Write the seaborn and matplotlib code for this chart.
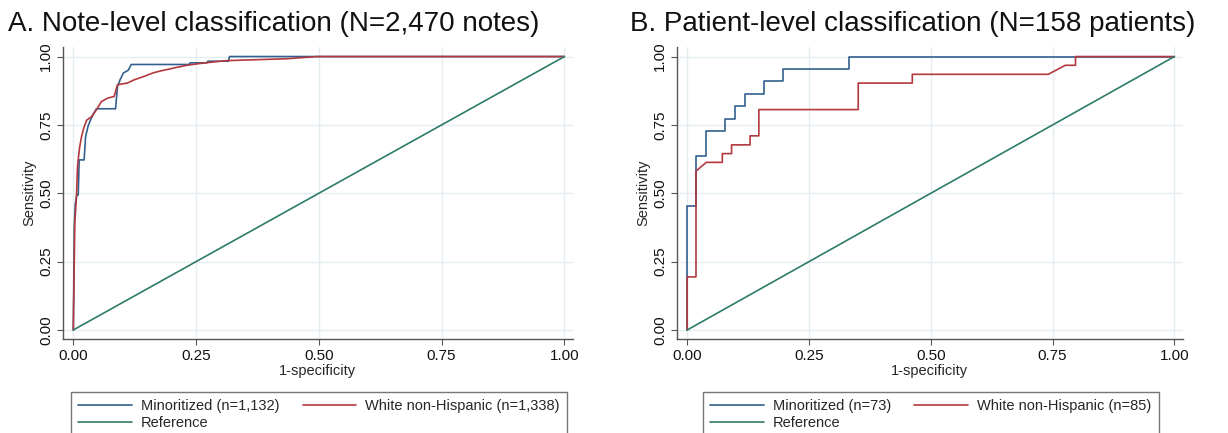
import matplotlib
matplotlib.use("Agg")
import matplotlib.pyplot as plt
import pandas as pd
import seaborn as sns

# Panel A: note-level ROC curves
note_fpr_min = [0.0, 0.002, 0.004, 0.007, 0.010, 0.012, 0.022, 0.025, 0.030, 0.035, 0.041, 0.047, 0.054,
                0.086, 0.090, 0.095, 0.102, 0.112, 0.118, 0.236, 0.238, 0.272, 0.274, 0.316, 0.318, 0.500, 1.0]
note_tpr_min = [0.0, 0.38, 0.46, 0.494, 0.494, 0.622, 0.622, 0.707, 0.745, 0.768, 0.790, 0.809, 0.809,
                0.809, 0.890, 0.914, 0.940, 0.950, 0.971, 0.971, 0.977, 0.977, 0.983, 0.983, 1.0, 1.0, 1.0]
note_fpr_wnh = [0.0, 0.002, 0.003, 0.0065, 0.0085, 0.011, 0.013, 0.017, 0.021, 0.027, 0.037, 0.047, 0.057, 0.070,
                0.083, 0.090, 0.110, 0.124, 0.145, 0.162, 0.177, 0.207, 0.231, 0.268, 0.312, 0.435, 0.496, 1.0]
note_tpr_wnh = [0.0, 0.25, 0.39, 0.488, 0.597, 0.640, 0.670, 0.709, 0.737, 0.767, 0.780, 0.805, 0.835, 0.848,
                0.854, 0.897, 0.903, 0.915, 0.928, 0.940, 0.947, 0.959, 0.968, 0.977, 0.985, 0.992, 1.0, 1.0]

# Panel B: patient-level ROC curves
pat_fpr_min = [0, 0, 0.019, 0.019, 0.039, 0.039, 0.078, 0.078, 0.098, 0.098, 0.118, 0.118,
               0.157, 0.157, 0.196, 0.196, 0.333, 0.333, 1.0]
pat_tpr_min = [0, 0.455, 0.455, 0.636, 0.636, 0.727, 0.727, 0.773, 0.773, 0.818, 0.818, 0.864,
               0.864, 0.909, 0.909, 0.955, 0.955, 1.0, 1.0]
pat_fpr_wnh = [0, 0, 0.018, 0.018, 0.039, 0.072, 0.072, 0.091, 0.091, 0.129, 0.129, 0.147,
               0.147, 0.351, 0.351, 0.462, 0.462, 0.741, 0.776, 0.797, 0.797, 1.0]
pat_tpr_wnh = [0, 0.194, 0.194, 0.581, 0.613, 0.613, 0.645, 0.645, 0.677, 0.677, 0.710, 0.710,
               0.806, 0.806, 0.903, 0.903, 0.935, 0.935, 0.968, 0.968, 1.0, 1.0]

ref_x = [0.0, 1.0]
ref_y = [0.0, 1.0]
ticks = [0.0, 0.25, 0.5, 0.75, 1.0]
tick_labels = ["0.00", "0.25", "0.50", "0.75", "1.00"]

titles = ["A. Note-level classification (N=2,470 notes)",
          "B. Patient-level classification (N=158 patients)"]
labels_a = ["Minoritized (n=1,132)", "White non-Hispanic (n=1,338)"]
labels_b = ["Minoritized (n=73)", "White non-Hispanic (n=85)"]

col_min = "#33608f"
col_wnh = "#b2393f"
col_ref = "#2e7b69"

sns.set_theme(style="white")
plt.rcParams["font.family"] = ["Liberation Sans", "DejaVu Sans"]


def make_df(fpr_min, tpr_min, fpr_wnh, tpr_wnh, labels):
    rows = []
    for x, y in zip(fpr_min, tpr_min):
        rows.append({"fpr": x, "tpr": y, "group": labels[0]})
    for x, y in zip(fpr_wnh, tpr_wnh):
        rows.append({"fpr": x, "tpr": y, "group": labels[1]})
    for x, y in zip(ref_x, ref_y):
        rows.append({"fpr": x, "tpr": y, "group": "Reference"})
    return pd.DataFrame(rows)


fig = plt.figure(figsize=(12.28, 4.33), dpi=100)
ax_a = fig.add_axes([0.0513, 0.2171, 0.4151, 0.6744])
ax_b = fig.add_axes([0.5513, 0.2171, 0.4118, 0.6744])

panels = [
    (ax_a, make_df(note_fpr_min, note_tpr_min, note_fpr_wnh, note_tpr_wnh, labels_a), labels_a),
    (ax_b, make_df(pat_fpr_min, pat_tpr_min, pat_fpr_wnh, pat_tpr_wnh, labels_b), labels_b),
]

for ax, df, labels in panels:
    palette = {labels[0]: col_min, labels[1]: col_wnh, "Reference": col_ref}
    sns.lineplot(data=df, x="fpr", y="tpr", hue="group", palette=palette,
                 hue_order=[labels[0], labels[1], "Reference"],
                 estimator=None, sort=False, linewidth=1.2, ax=ax)
    ax.set_xlim(-0.021, 1.017)
    ax.set_ylim(-0.033, 1.035)
    ax.set_xticks(ticks)
    ax.set_xticklabels(tick_labels)
    ax.set_yticks(ticks)
    ax.set_yticklabels(tick_labels)
    ax.grid(True, color="#e4eef1", linewidth=1.0)
    ax.set_axisbelow(True)
    for side in ["top", "right"]:
        ax.spines[side].set_visible(False)
    for side in ["left", "bottom"]:
        ax.spines[side].set_color("#555555")
        ax.spines[side].set_linewidth(1.0)
    ax.tick_params(axis="both", direction="out", length=4, width=0.8, color="#555555",
                   labelsize=11, labelcolor="#111111", left=True, bottom=True)
    ax.tick_params(axis="y", labelrotation=90, pad=3)
    ax.tick_params(axis="x", pad=3)
    for lab in ax.get_yticklabels():
        lab.set_va("center")
    ax.set_xlabel("1-specificity", fontsize=10.5, labelpad=1)
    ax.set_ylabel("Sensitivity", fontsize=10.5, labelpad=2)

    # legend under each panel, Stata-style box, row-major order
    handles, _ = ax.get_legend_handles_labels()
    ax.get_legend().remove()
    pos = ax.get_position()
    x_center = pos.x0 + pos.width * (0.5 + 0.021) / 1.038
    leg = fig.legend([handles[0], handles[2], handles[1]],
                     [labels[0], "Reference", labels[1]],
                     ncol=2, loc="upper center", bbox_to_anchor=(x_center, 0.0947),
                     fontsize=10.5, frameon=True, fancybox=False,
                     handlelength=3.7, handletextpad=0.6, columnspacing=1.6,
                     borderpad=0.5, labelspacing=0.2, borderaxespad=0)
    leg.get_frame().set_edgecolor("#555555")
    leg.get_frame().set_linewidth(1.0)
    for line in leg.get_lines():
        line.set_linewidth(1.2)

fig.text(0.0065, 0.928, titles[0], fontsize=20, va="baseline", ha="left", color="#111111")
fig.text(0.513, 0.928, titles[1], fontsize=20, va="baseline", ha="left", color="#111111")

fig.savefig("out.png", dpi=100)
